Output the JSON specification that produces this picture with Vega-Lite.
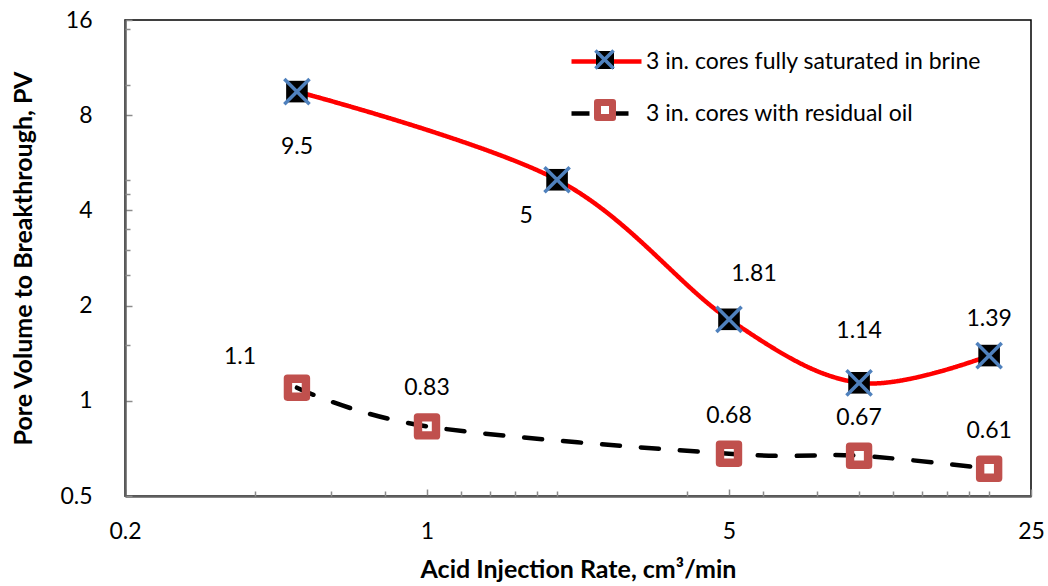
{
  "$schema": "https://vega.github.io/schema/vega-lite/v6.json",
  "width": 906,
  "height": 476,
  "autosize": {"type": "none"},
  "padding": {"left": 125, "top": 20, "right": 17, "bottom": 90},
  "background": "white",
  "config": {
    "font": "Lato",
    "view": {"stroke": "black", "strokeWidth": 1.5},
    "axis": {
      "grid": false,
      "domainColor": "#5f5f5f",
      "domainWidth": 2.5,
      "tickColor": "#8c8c8c",
      "tickWidth": 1.5,
      "labelFont": "Lato",
      "labelFontSize": 23,
      "labelColor": "black",
      "titleFont": "Lato",
      "titleFontSize": 25,
      "titleFontWeight": "bold",
      "titleColor": "black",
      "labelFlush": false,
      "labelOverlap": false
    },
    "legend": {
      "labelFont": "Lato",
      "labelFontSize": 23,
      "labelColor": "black",
      "labelLimit": 0,
      "padding": 0
    }
  },
  "data": {
    "values": [
      {"series": "3 in. cores fully saturated in brine", "rate": 0.5, "pv": 9.5},
      {"series": "3 in. cores fully saturated in brine", "rate": 2, "pv": 5},
      {"series": "3 in. cores fully saturated in brine", "rate": 5, "pv": 1.81},
      {"series": "3 in. cores fully saturated in brine", "rate": 10, "pv": 1.14},
      {"series": "3 in. cores fully saturated in brine", "rate": 20, "pv": 1.39},
      {"series": "3 in. cores with residual oil", "rate": 0.5, "pv": 1.1},
      {"series": "3 in. cores with residual oil", "rate": 1, "pv": 0.83},
      {"series": "3 in. cores with residual oil", "rate": 5, "pv": 0.68},
      {"series": "3 in. cores with residual oil", "rate": 10, "pv": 0.67},
      {"series": "3 in. cores with residual oil", "rate": 20, "pv": 0.61}
    ]
  },
  "resolve": {"axis": {"x": "independent", "y": "independent"}},
  "layer": [
    {
      "mark": {"type": "line", "interpolate": "cardinal", "strokeWidth": 4.5, "strokeCap": "round"},
      "encoding": {
        "x": {
          "field": "rate", "type": "quantitative",
          "scale": {"type": "log", "base": 5, "domain": [0.2, 25], "nice": false},
          "axis": {
            "orient": "bottom", "values": [0.2, 1, 5, 25], "format": "~g",
            "tickSize": -7, "labelPadding": 31,
            "title": "Acid Injection Rate, cm³/min", "titlePadding": 14
          }
        },
        "y": {
          "field": "pv", "type": "quantitative",
          "scale": {"type": "log", "base": 2, "domain": [0.5, 16], "nice": false},
          "axis": {
            "orient": "left", "values": [0.5, 1, 2, 4, 8, 16], "format": "~g",
            "tickSize": -7, "labelPadding": 40,
            "title": "Pore Volume to Breakthrough, PV", "titlePadding": 23
          }
        },
        "stroke": {
          "field": "series", "type": "nominal",
          "scale": {
            "domain": ["3 in. cores fully saturated in brine", "3 in. cores with residual oil"],
            "range": ["#ff0000", "#000000"]
          },
          "legend": {
            "orient": "none", "legendX": 469, "legendY": 29, "title": null,
            "symbolType": "M-3.5,0H3.5", "symbolSize": 400, "symbolStrokeWidth": 4.5,
            "labelOffset": 27, "rowPadding": 27
          }
        },
        "strokeDash": {
          "field": "series", "type": "nominal",
          "scale": {
            "domain": ["3 in. cores fully saturated in brine", "3 in. cores with residual oil"],
            "range": [[1, 0], [18, 21]]
          }
        }
      }
    },
    {
      "mark": {"type": "point", "filled": true, "size": 576, "opacity": 1, "strokeWidth": 0},
      "encoding": {
        "x": {"field": "rate", "type": "quantitative", "axis": null},
        "y": {"field": "pv", "type": "quantitative", "axis": null},
        "fill": {
          "field": "series", "type": "nominal",
          "scale": {"range": ["#000000", "#c0504d"]},
          "legend": {
            "orient": "none", "legendX": 470, "legendY": 30, "title": null,
            "symbolSize": 400, "symbolStrokeWidth": 0, "labelExpr": "''",
            "labelFontSize": 1, "rowPadding": 30
          }
        },
        "shape": {
          "field": "series", "type": "nominal",
          "scale": {
            "range": [
              "M-0.9,-0.9H0.9V0.9H-0.9Z",
              "M-0.8,-1.1H0.8Q1.1,-1.1 1.1,-0.8V0.8Q1.1,1.1 0.8,1.1H-0.8Q-1.1,1.1 -1.1,0.8V-0.8Q-1.1,-1.1 -0.8,-1.1ZM-0.4,-0.4V0.4H0.4V-0.4Z"
            ]
          }
        }
      }
    },
    {
      "transform": [{"filter": "datum.series === '3 in. cores fully saturated in brine'"}],
      "mark": {
        "type": "point", "filled": false, "opacity": 1, "size": 576, "strokeWidth": 3.5,
        "shape": "M-1.05,-1.05L1.05,1.05M-1.05,1.05L1.05,-1.05"
      },
      "encoding": {
        "x": {
          "field": "rate", "type": "quantitative",
          "axis": {
            "orient": "bottom", "values": [0.4, 0.6, 0.8, 1.2, 1.4, 1.6, 1.8, 2, 4, 6, 8, 10, 12, 14, 16, 18, 20],
            "labels": false, "domain": false, "tickSize": -5, "title": null
          }
        },
        "y": {
          "field": "pv", "type": "quantitative",
          "axis": {
            "orient": "left", "values": [1.5, 2.5, 3, 3.5, 4.5, 5, 10, 15],
            "labels": false, "domain": false, "tickSize": -5, "title": null
          }
        },
        "color": {
          "field": "series", "type": "nominal",
          "scale": {"range": ["#4f81bd"]},
          "legend": {
            "orient": "none", "legendX": 469, "legendY": 29, "title": null,
            "symbolType": "M-1.05,-1.05L1.05,1.05M-1.05,1.05L1.05,-1.05",
            "symbolSize": 300, "symbolStrokeWidth": 3.5, "labelExpr": "''", "labelFontSize": 1
          }
        }
      }
    },
    {
      "transform": [{"filter": "datum.series === '3 in. cores fully saturated in brine' && datum.rate === 0.5"}],
      "mark": {"type": "text", "fontSize": 23, "dy": 55, "baseline": "middle"},
      "encoding": {
        "x": {"field": "rate", "type": "quantitative", "axis": null},
        "y": {"field": "pv", "type": "quantitative", "axis": null},
        "text": {"field": "pv", "type": "quantitative", "format": "~g"}
      }
    },
    {
      "transform": [{"filter": "datum.series === '3 in. cores fully saturated in brine' && datum.rate === 2"}],
      "mark": {"type": "text", "fontSize": 23, "dx": -31, "dy": 36, "baseline": "middle"},
      "encoding": {
        "x": {"field": "rate", "type": "quantitative", "axis": null},
        "y": {"field": "pv", "type": "quantitative", "axis": null},
        "text": {"field": "pv", "type": "quantitative", "format": "~g"}
      }
    },
    {
      "transform": [{"filter": "datum.series === '3 in. cores fully saturated in brine' && datum.rate === 5"}],
      "mark": {"type": "text", "fontSize": 23, "dx": 25, "dy": -45, "baseline": "middle"},
      "encoding": {
        "x": {"field": "rate", "type": "quantitative", "axis": null},
        "y": {"field": "pv", "type": "quantitative", "axis": null},
        "text": {"field": "pv", "type": "quantitative", "format": "~g"}
      }
    },
    {
      "transform": [{"filter": "datum.series === '3 in. cores fully saturated in brine' && datum.rate === 10"}],
      "mark": {"type": "text", "fontSize": 23, "dy": -52, "baseline": "middle"},
      "encoding": {
        "x": {"field": "rate", "type": "quantitative", "axis": null},
        "y": {"field": "pv", "type": "quantitative", "axis": null},
        "text": {"field": "pv", "type": "quantitative", "format": "~g"}
      }
    },
    {
      "transform": [{"filter": "datum.series === '3 in. cores fully saturated in brine' && datum.rate === 20"}],
      "mark": {"type": "text", "fontSize": 23, "dy": -37, "baseline": "middle"},
      "encoding": {
        "x": {"field": "rate", "type": "quantitative", "axis": null},
        "y": {"field": "pv", "type": "quantitative", "axis": null},
        "text": {"field": "pv", "type": "quantitative", "format": "~g"}
      }
    },
    {
      "transform": [{"filter": "datum.series === '3 in. cores with residual oil' && datum.rate === 0.5"}],
      "mark": {"type": "text", "fontSize": 23, "dx": -57, "dy": -31, "baseline": "middle"},
      "encoding": {
        "x": {"field": "rate", "type": "quantitative", "axis": null},
        "y": {"field": "pv", "type": "quantitative", "axis": null},
        "text": {"field": "pv", "type": "quantitative", "format": "~g"}
      }
    },
    {
      "transform": [{"filter": "datum.series === '3 in. cores with residual oil' && datum.rate > 0.5"}],
      "mark": {"type": "text", "fontSize": 23, "dy": -38, "baseline": "middle"},
      "encoding": {
        "x": {"field": "rate", "type": "quantitative", "axis": null},
        "y": {"field": "pv", "type": "quantitative", "axis": null},
        "text": {"field": "pv", "type": "quantitative", "format": "~g"}
      }
    }
  ]
}
